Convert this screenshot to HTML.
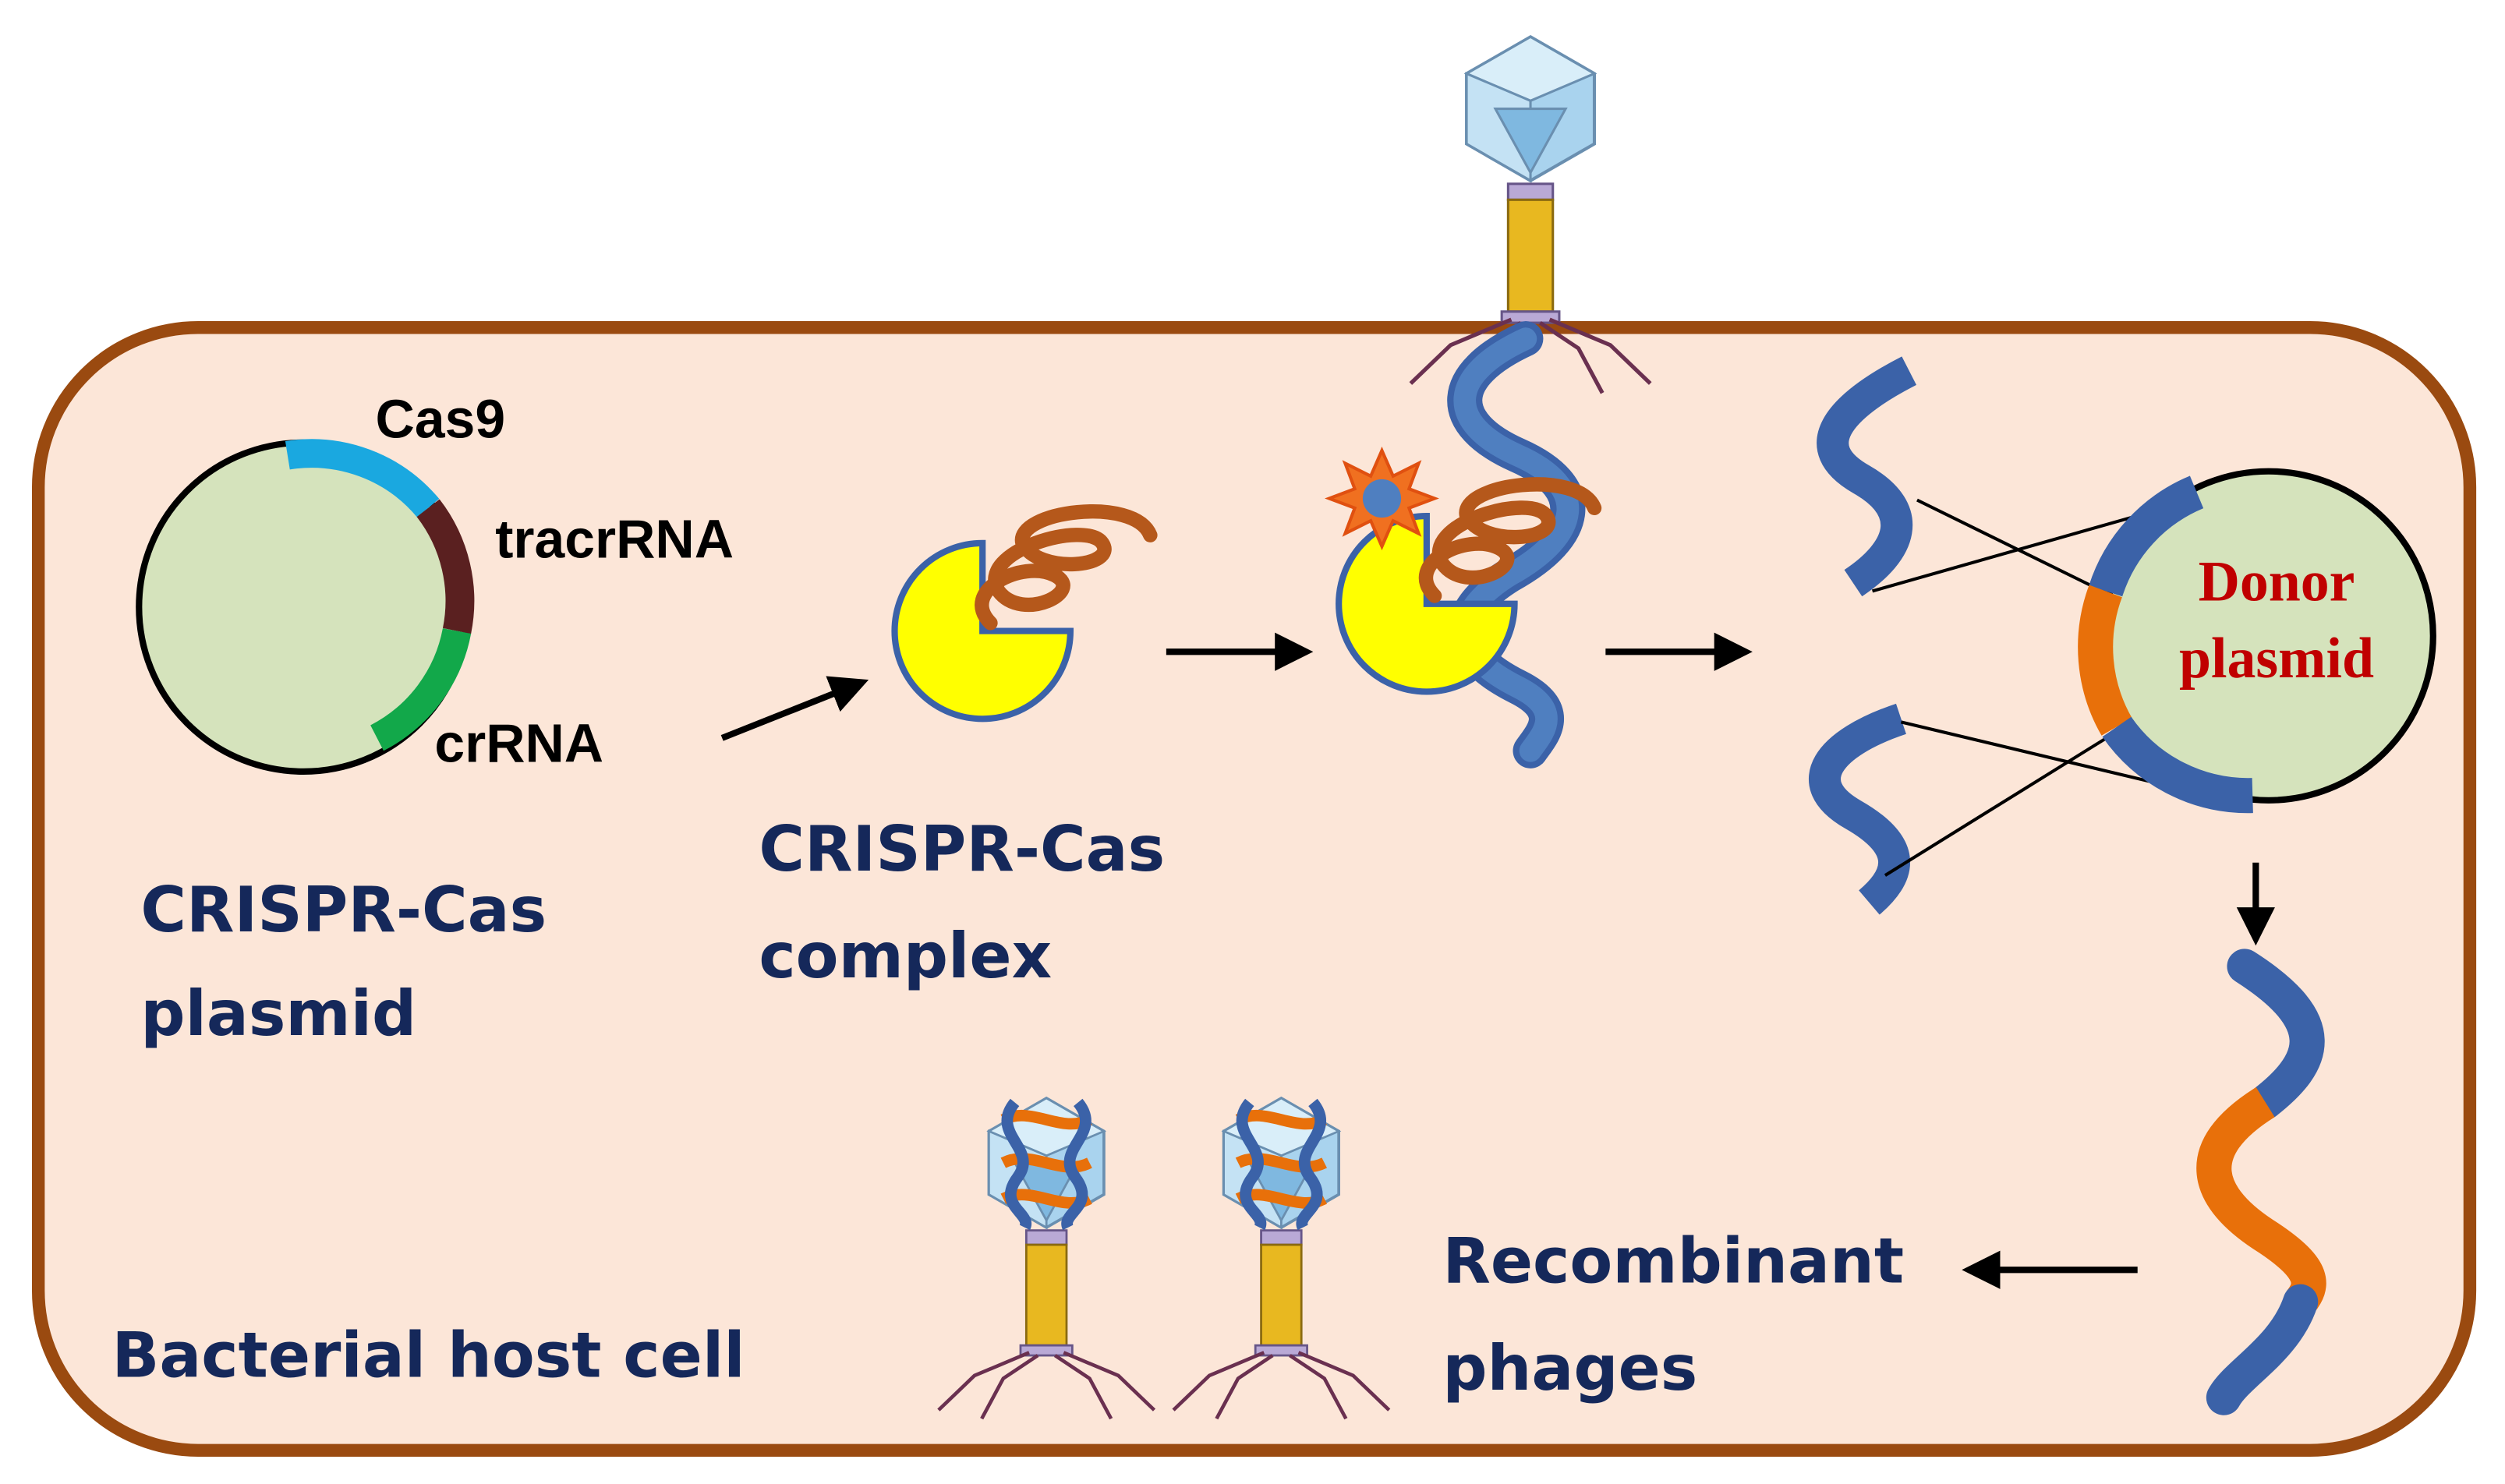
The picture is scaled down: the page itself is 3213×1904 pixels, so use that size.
<!DOCTYPE html>
<html><head><meta charset="utf-8"><style>
html,body{margin:0;padding:0;background:#fff;}
svg{display:block;}
.lab{font-family:"Liberation Sans",sans-serif;font-weight:bold;fill:#000;font-size:34px;}
.nv{font-family:"DejaVu Sans","Liberation Sans",sans-serif;font-weight:bold;fill:#15285a;font-size:39px;}
.dn{font-family:"Liberation Serif",serif;font-weight:bold;fill:#c00000;font-size:36px;}
</style></head><body>
<svg width="3213" height="1904" viewBox="0 0 1568 929" xmlns="http://www.w3.org/2000/svg">
<defs>
<marker id="ah" markerWidth="6" markerHeight="6" refX="5" refY="3" orient="auto" markerUnits="strokeWidth">
<path d="M0,0 L6,3 L0,6 Z" fill="#000"/></marker>
<g id="phage">
 <polygon points="0,-45 40,-22 40,22 0,45 -40,22 -40,-22" fill="#a9d3ee" stroke="#6a8fb0" stroke-width="2"/>
 <polygon points="0,-45 40,-22 0,-5 -40,-22" fill="#d9eef9" stroke="#6a8fb0" stroke-width="1.5"/>
 <polygon points="-40,-22 0,-5 0,45 -40,22" fill="#c4e2f4" stroke="#6a8fb0" stroke-width="1.5"/>
 <polygon points="-22,0 22,0 0,40" fill="#7fb8e0" stroke="#6a8fb0" stroke-width="1.5"/>
 <rect x="-14" y="47" width="28" height="10" fill="#b9a9d6" stroke="#665588" stroke-width="1.5"/>
 <rect x="-14" y="57" width="28" height="70" fill="#e8b820" stroke="#8a6a10" stroke-width="1.5"/>
 <rect x="-18" y="127" width="36" height="7" fill="#b9a9d6" stroke="#665588" stroke-width="1.5"/>
 <g stroke="#6a3050" stroke-width="2.5" fill="none">
  <path d="M-12,132 L-50,148 L-75,172"/><path d="M12,132 L50,148 L75,172"/>
  <path d="M-6,134 L-30,150 L-45,178"/><path d="M6,134 L30,150 L45,178"/>
 </g>
</g>
</defs>
<rect width="1568" height="929" fill="#fff"/>
<rect x="24" y="205" width="1522" height="703" rx="100" fill="#fce6d8" stroke="#9a4a10" stroke-width="8"/>

<circle cx="190" cy="380" r="103" fill="#d5e3bc" stroke="#000" stroke-width="4"/>
<path d="M180,285 A95,95 0 0 1 268,318" fill="none" stroke="#1aa8e0" stroke-width="18"/>
<path d="M268,318 A95,95 0 0 1 286,395" fill="none" stroke="#5a2020" stroke-width="18"/>
<path d="M286,395 A95,95 0 0 1 236,462" fill="none" stroke="#12a84a" stroke-width="18"/>
<text class="lab" x="235" y="274">Cas9</text>
<text class="lab" x="310" y="349">tracrRNA</text>
<text class="lab" x="272" y="477">crRNA</text>
<text class="nv" x="88" y="583">CRISPR-Cas</text>
<text class="nv" x="88" y="648">plasmid</text>

<line x1="452" y1="462" x2="540" y2="427" stroke="#000" stroke-width="4" marker-end="url(#ah)"/>

<path d="M615,395 L615,340 A55,55 0 1 0 670,395 Z" fill="#ffff00" stroke="#3b62a8" stroke-width="4"/>
<path d="M620,390 C600,370 640,350 660,360 C680,370 640,390 625,370 C610,345 680,325 690,340 C700,355 650,360 640,340 C635,320 710,310 720,335" fill="none" stroke="#b5581b" stroke-width="9" stroke-linecap="round"/>
<text class="nv" x="475" y="545">CRISPR-Cas</text>
<text class="nv" x="475" y="612">complex</text>

<line x1="730" y1="408" x2="818" y2="408" stroke="#000" stroke-width="4" marker-end="url(#ah)"/>

<use href="#phage" x="958" y="68"/>
<path d="M955,212 C905,235 905,265 950,285 C995,305 990,335 945,360 C905,385 910,410 950,430 C980,445 965,460 958,470" fill="none" stroke="#3b62a8" stroke-width="22" stroke-linecap="round"/>
<path d="M955,212 C905,235 905,265 950,285 C995,305 990,335 945,360 C905,385 910,410 950,430 C980,445 965,460 958,470" fill="none" stroke="#4f7fc0" stroke-width="14" stroke-linecap="round"/>
<path d="M893,378 L893,323 A55,55 0 1 0 948,378 Z" fill="#ffff00" stroke="#3b62a8" stroke-width="4"/>
<path d="M898,373 C878,353 918,333 938,343 C958,353 918,373 903,353 C888,328 958,308 968,323 C978,338 928,343 918,323 C913,303 988,293 998,318" fill="none" stroke="#b5581b" stroke-width="9" stroke-linecap="round"/>
<polygon points="865,282 872,298 888,290 882,306 898,312 882,318 888,334 872,326 865,342 858,326 842,334 848,318 832,312 848,306 842,290 858,298" fill="#f07020" stroke="#e05010" stroke-width="2"/>
<circle cx="865" cy="312" r="12" fill="#4f7fc0"/>

<line x1="1005" y1="408" x2="1093" y2="408" stroke="#000" stroke-width="4" marker-end="url(#ah)"/>

<path d="M1195,232 C1150,255 1130,280 1165,300 C1200,320 1190,345 1160,365" fill="none" stroke="#3b62a8" stroke-width="20"/>
<path d="M1190,450 C1145,465 1125,490 1160,510 C1195,530 1190,548 1170,565" fill="none" stroke="#3b62a8" stroke-width="20"/>
<g stroke="#000" stroke-width="2">
<line x1="1172" y1="370" x2="1355" y2="318"/><line x1="1200" y1="313" x2="1320" y2="372"/>
<line x1="1180" y1="548" x2="1325" y2="458"/><line x1="1190" y1="452" x2="1370" y2="495"/>
</g>

<circle cx="1420" cy="398" r="103" fill="#d5e3bc" stroke="#000" stroke-width="4"/>
<path d="M1375,308 A100,100 0 0 0 1318,370" fill="none" stroke="#3b62a8" stroke-width="22"/>
<path d="M1318,370 A100,100 0 0 0 1325,455" fill="none" stroke="#e8700a" stroke-width="22"/>
<path d="M1325,455 A100,100 0 0 0 1410,498" fill="none" stroke="#3b62a8" stroke-width="22"/>
<text class="dn" x="1425" y="376" text-anchor="middle">Donor</text>
<text class="dn" x="1425" y="424" text-anchor="middle">plasmid</text>

<line x1="1412" y1="540" x2="1412" y2="588" stroke="#000" stroke-width="4" marker-end="url(#ah)"/>

<path d="M1405,605 C1460,640 1450,665 1418,690" fill="none" stroke="#3b62a8" stroke-width="22" stroke-linecap="round"/>
<path d="M1418,690 C1370,720 1380,750 1420,775 C1450,795 1448,805 1440,815" fill="none" stroke="#e8700a" stroke-width="22"/>
<path d="M1440,815 C1430,845 1400,860 1392,875" fill="none" stroke="#3b62a8" stroke-width="22" stroke-linecap="round"/>

<line x1="1338" y1="795" x2="1232" y2="795" stroke="#000" stroke-width="4" marker-end="url(#ah)"/>
<text class="nv" x="903" y="803">Recombinant</text>
<text class="nv" x="903" y="870">phages</text>
<text class="nv" x="70" y="862">Bacterial host cell</text>

<g transform="translate(655,728) scale(0.9)">
<use href="#phage"/>
<path d="M-30,-30 C-10,-40 10,-20 30,-30 M-30,0 C-10,-10 10,10 30,0 M-30,25 C-10,15 10,35 30,25" fill="none" stroke="#e8700a" stroke-width="8"/>
<path d="M-22,-42 C-40,-20 -5,-10 -20,10 C-35,30 -10,35 -15,45 M22,-42 C40,-20 5,-10 20,10 C35,30 10,35 15,45" fill="none" stroke="#3b62a8" stroke-width="8"/>
</g>
<g transform="translate(802,728) scale(0.9)">
<use href="#phage"/>
<path d="M-30,-30 C-10,-40 10,-20 30,-30 M-30,0 C-10,-10 10,10 30,0 M-30,25 C-10,15 10,35 30,25" fill="none" stroke="#e8700a" stroke-width="8"/>
<path d="M-22,-42 C-40,-20 -5,-10 -20,10 C-35,30 -10,35 -15,45 M22,-42 C40,-20 5,-10 20,10 C35,30 10,35 15,45" fill="none" stroke="#3b62a8" stroke-width="8"/>
</g>
</svg>
</body></html>
